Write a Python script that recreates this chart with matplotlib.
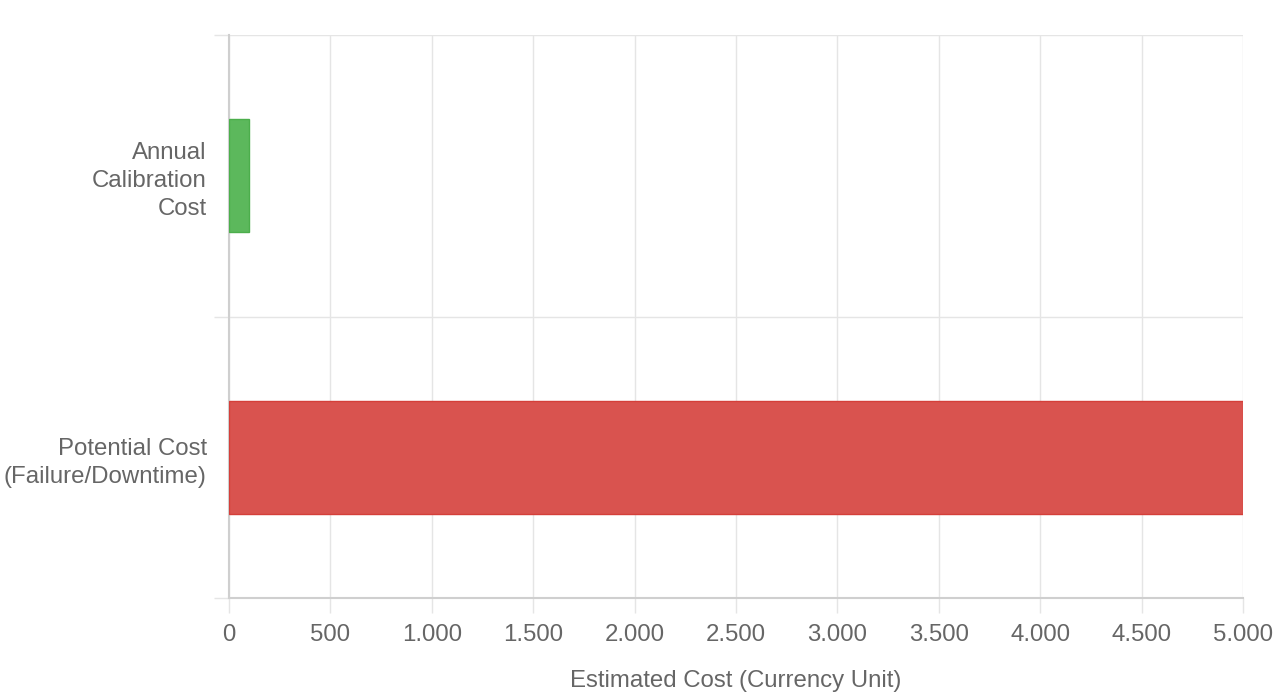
from matplotlib import pyplot as plt
from matplotlib.ticker import FuncFormatter, MultipleLocator
import numpy as np

# datos del grafico
categorias = ['Annual\nCalibration\nCost', 'Potential Cost\n(Failure/Downtime)']
costos = [100, 5000]
colores = ['#5cb85c', '#d9534f']
bordes = ['#4cae4c', '#d43f3a']

plt.rcParams['font.family'] = ['Liberation Sans', 'DejaVu Sans']
texto = '#666666'
grilla = '#e5e5e5'
tam = 17.3

fig = plt.figure(figsize=(12.8, 7), dpi=100)
ax = fig.add_axes([229/1280, 1-598/700, (1243-229)/1280, (598-35)/700])

y = np.arange(len(categorias))
ax.barh(y, costos, height=0.4, color=colores, edgecolor=bordes, linewidth=1, zorder=3)

ax.set_xlim(0, 5000)
ax.set_ylim(len(categorias) - 0.5, -0.5)

# ticks mayores = etiquetas, menores = lineas de grilla
ax.xaxis.set_major_locator(MultipleLocator(500))
ax.xaxis.set_major_formatter(FuncFormatter(lambda v, p: f'{int(v):,}'.replace(',', '.')))
ax.set_yticks(y)
ax.set_yticklabels(categorias, ha='right', linespacing=1.35)
ax.set_yticks(np.arange(-0.5, len(categorias), 1), minor=True)

ax.tick_params(axis='x', length=11, width=1, color=grilla, labelsize=tam, labelcolor=texto, pad=8)
ax.tick_params(axis='y', which='major', length=0, labelsize=tam, labelcolor=texto, pad=16)
ax.tick_params(axis='y', which='minor', length=11, width=1, color=grilla)

ax.grid(axis='x', which='major', color=grilla, linewidth=1, zorder=0)
ax.grid(axis='y', which='minor', color=grilla, linewidth=1, zorder=0)

for lado in ['top', 'right']:
    ax.spines[lado].set_visible(False)
ax.spines['left'].set_color('#cfcfcf')
ax.spines['bottom'].set_color('#cfcfcf')
ax.spines['left'].set_linewidth(1.5)
ax.spines['bottom'].set_linewidth(1.5)

ax.set_xlabel('Estimated Cost (Currency Unit)', fontsize=tam, color=texto, labelpad=17)

fig.savefig('out.png', dpi=100)
